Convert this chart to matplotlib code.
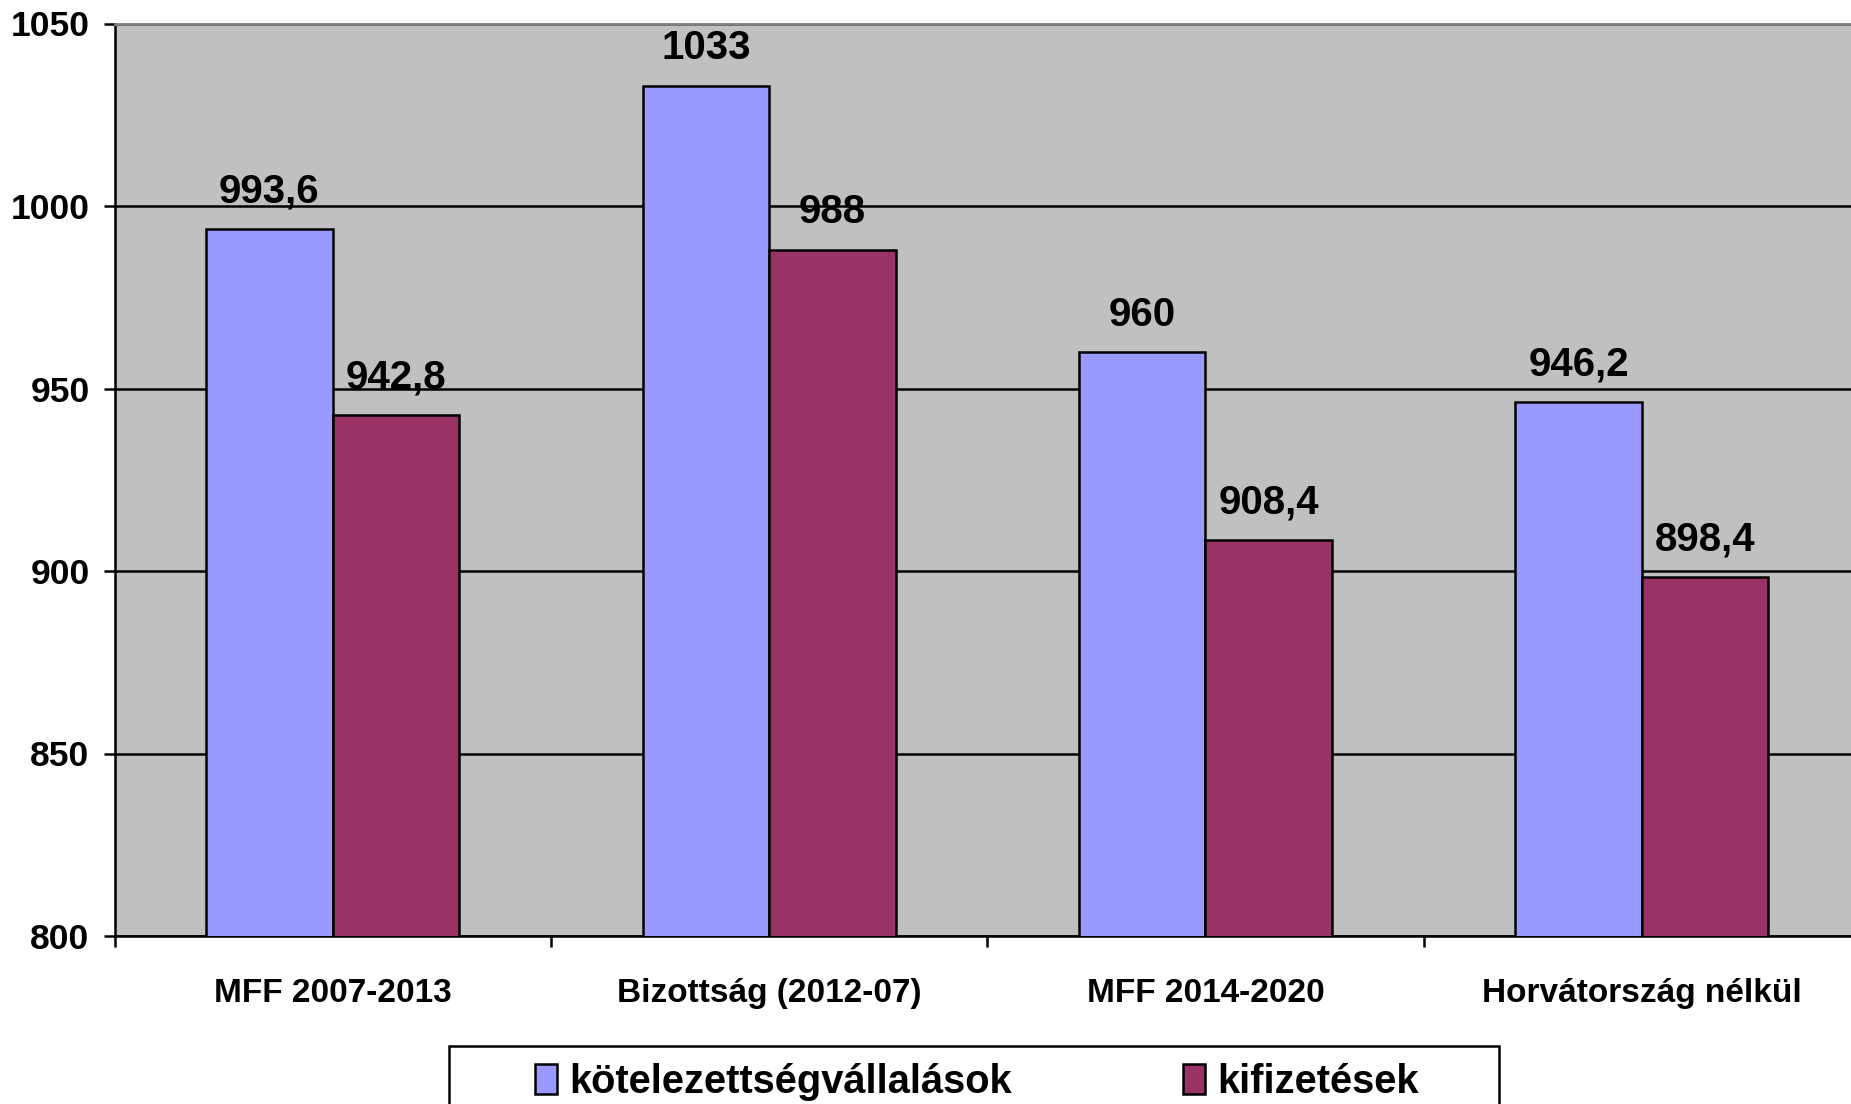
import numpy as np
import matplotlib
matplotlib.use("Agg")
import matplotlib.pyplot as plt
from matplotlib.patches import Rectangle
from matplotlib.ticker import FixedLocator, NullFormatter

plt.rcParams['font.family'] = ['Liberation Sans', 'DejaVu Sans']
plt.rcParams['font.weight'] = 'bold'

categories = ["MFF 2007-2013", "Bizottság (2012-07)", "MFF 2014-2020", "Horvátország nélkül"]
kotelezettseg = [993.6, 1033, 960, 946.2]
kifizetes = [942.8, 988, 908.4, 898.4]
kot_labels = ["993,6", "1033", "960", "946,2"]
kif_labels = ["942,8", "988", "908,4", "898,4"]
series_names = ["kötelezettségvállalások", "kifizetések"]

blue = '#9999FF'
plum = '#993366'

W, H = 1851, 1104
fig = plt.figure(figsize=(W / 100, H / 100), dpi=100)
ax = fig.add_axes([114.5 / W, 1 - 936 / H, (1860 - 114.5) / W, (936 - 23.5) / H])
ax.set_facecolor('#C0C0C0')

x = np.arange(len(categories)) + 0.5
bw = 0.29
b1 = ax.bar(x - bw / 2, kotelezettseg, bw, color=blue, edgecolor='black', linewidth=1.8, zorder=3)
b2 = ax.bar(x + bw / 2, kifizetes, bw, color=plum, edgecolor='black', linewidth=1.8, zorder=3)

for bars, labs in ((b1, kot_labels), (b2, kif_labels)):
    for r, t in zip(bars, labs):
        ax.annotate(t, (r.get_x() + r.get_width() / 2, r.get_height()), xytext=(0, 19),
                    textcoords='offset points', ha='center', va='baseline',
                    fontsize=29, fontweight='bold')

ax.set_ylim(800, 1050)
ax.set_xlim(0, len(categories))
ax.set_yticks([800, 850, 900, 950, 1000, 1050])
ax.set_yticklabels(['800', '850', '900', '950', '1000', '1050'])
ax.yaxis.grid(True, color='black', linewidth=1.8, zorder=1)
ax.set_axisbelow(True)

ax.set_xticks(x)
ax.set_xticklabels(categories)
ax.tick_params(axis='x', which='major', length=0, pad=30, labelsize=24)
ax.xaxis.set_minor_locator(FixedLocator(np.arange(len(categories) + 1)))
ax.xaxis.set_minor_formatter(NullFormatter())
ax.tick_params(axis='x', which='minor', length=8, width=1.8, direction='out')
ax.tick_params(axis='y', length=8, width=1.8, direction='out', labelsize=25.5, pad=10)

for s in ('left', 'bottom'):
    ax.spines[s].set_linewidth(1.8)
    ax.spines[s].set_color('black')
ax.spines['top'].set_color('#808080')
ax.spines['top'].set_linewidth(2)
ax.spines['right'].set_visible(False)

# legend frame runs past the bottom edge of the figure
box = Rectangle((449 / W, -0.05), (1499 - 449) / W, (1 - 1046 / H) + 0.05,
                transform=fig.transFigure, facecolor='white', edgecolor='black',
                linewidth=1.8, zorder=5)
fig.patches.append(box)

leg = fig.legend([b1, b2], series_names, loc='upper center',
                 bbox_to_anchor=(977 / W, 1 - 1045 / H),
                 ncol=2, fontsize=28.7, frameon=False,
                 handlelength=0.55, handleheight=0.8, handletextpad=0.3,
                 borderpad=0.45, borderaxespad=0, columnspacing=4.3)
leg.set_zorder(6)

fig.savefig('out.png', dpi=100)
